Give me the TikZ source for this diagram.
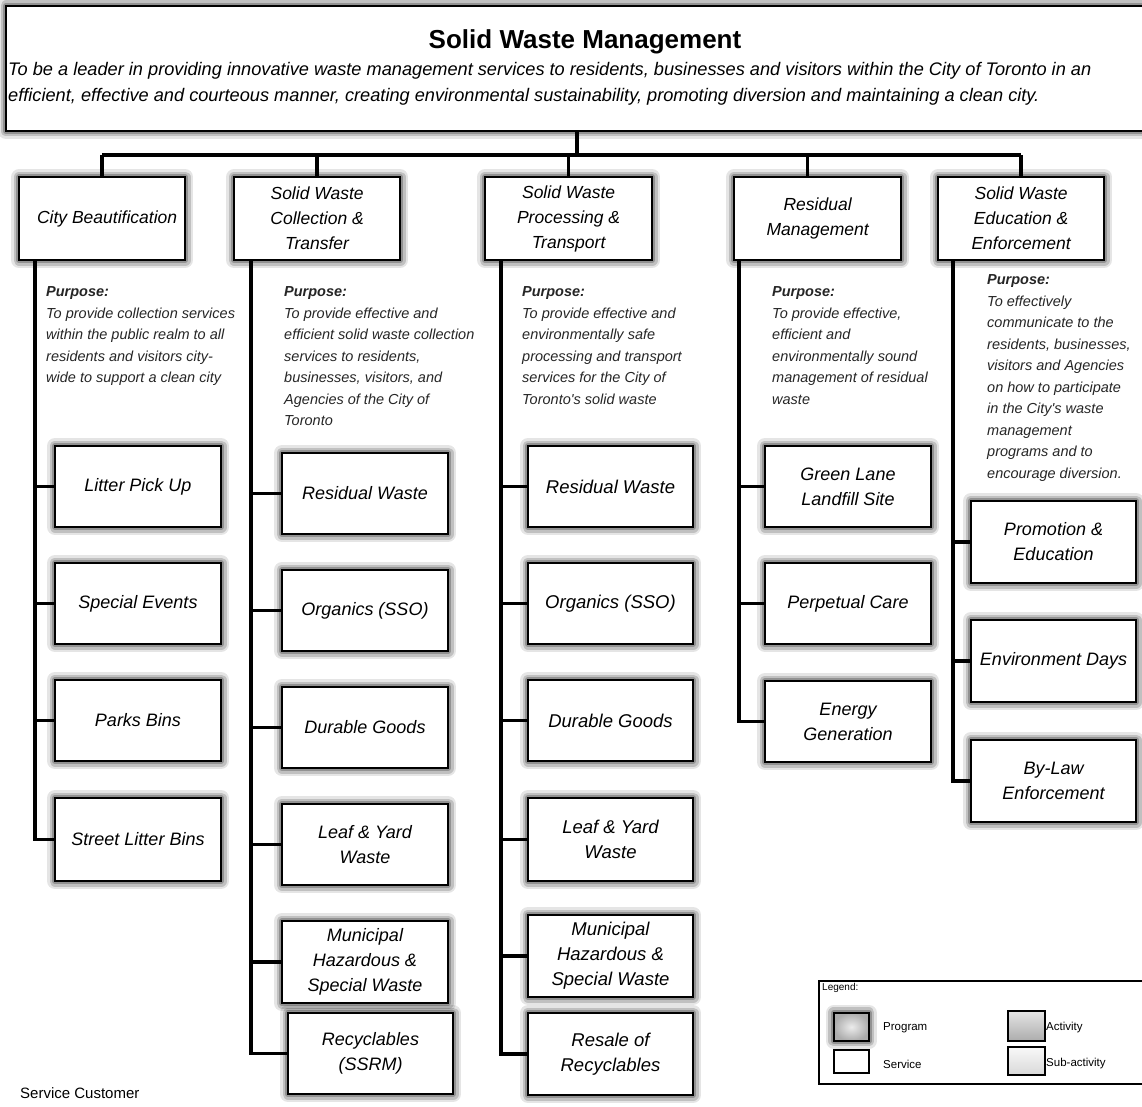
\documentclass[tikz,border=0pt]{standalone}
\usepackage{fontspec}
\setmainfont{Liberation Sans}[Ligatures=TeXOff]
\newcommand\fsz[2]{\fontsize{#1}{#2}\selectfont}
\pgfdeclarelayer{background}
\pgfsetlayers{background,main}
\tikzset{
  glow/.style={
    preaction={draw=black, draw opacity=0.10, line width=16pt, line join=round},
    preaction={draw=black, draw opacity=0.16, line width=11pt, line join=round},
    preaction={draw=black, draw opacity=0.24, line width=6pt, line join=round}},
  hdr/.style={glow, draw=black, line width=2.2pt, fill=white, minimum width=166pt,
    minimum height=83pt, inner sep=2pt, align=center, anchor=north west,
    font=\fsz{17.5}{25}\itshape},
  svc/.style={glow, draw=black, line width=2pt, fill=white, minimum width=166pt,
    minimum height=81pt, inner sep=2pt, align=center, anchor=north west,
    font=\fsz{18}{25}\itshape},
  svcb/.style={svc, font=\fsz{18.5}{25}\itshape},
  conn/.style={draw=black, line width=3.5pt},
  purp/.style={anchor=north west, align=left, inner sep=0pt, text=black!85,
    font=\fsz{14.5}{21.5}\itshape},
  leg/.style={anchor=west, inner sep=0pt, font=\fsz{11.5}{13}}
}
\begin{document}
\begin{tikzpicture}[x=1pt,y=-1pt]
\useasboundingbox (0,0) rectangle (1142,1107);
\begin{pgfonlayer}{background}
\fill[white] (0,0) rectangle (1142,1107);
\end{pgfonlayer}

% top program box
\node[glow, draw=black, line width=2pt, fill=white, anchor=north west,
  minimum width=1150pt, minimum height=125pt] (top) at (5,5) {};
\node[font=\fsz{26}{30}\bfseries] (title) at (585,42) {Solid Waste Management};
\node[anchor=north west, align=left, inner sep=0pt, font=\fsz{18.2}{26}\itshape] (mission) at (8,62)
 {To be a leader in providing innovative waste management services to residents, businesses and visitors within the City of Toronto in an\\
  efficient, effective and courteous manner, creating environmental sustainability, promoting diversion and maintaining a clean city.};

% headers
\node[hdr] (h1) at (18,176) {\hspace*{10pt}City Beautification};
\node[hdr] (h2) at (233,176) {Solid Waste\\Collection \&\\Transfer};
\node[hdr, minimum width=167pt] (h3) at (484,176) {Solid Waste\\Processing \&\\Transport};
\node[hdr, minimum width=167pt] (h4) at (733,176) {Residual\\Management};
\node[hdr] (h5) at (937,176) {Solid Waste\\Education \&\\Enforcement};

% purposes
\node[purp] (p1) at (46,286.5) {\textbf{Purpose:}\\To provide collection services\\within the public realm to all\\residents and visitors city-\\wide to support a clean city};
\node[purp] (p2) at (284,286.5) {\textbf{Purpose:}\\To provide effective and\\efficient solid waste collection\\services to residents,\\businesses, visitors, and\\Agencies of the City of\\Toronto};
\node[purp] (p3) at (522,286.5) {\textbf{Purpose:}\\To provide effective and\\environmentally safe\\processing and transport\\services for the City of\\Toronto's solid waste};
\node[purp] (p4) at (772,286.5) {\textbf{Purpose:}\\To provide effective,\\efficient and\\environmentally sound\\management of residual\\waste};
\node[purp] (p5) at (987,274.5) {\textbf{Purpose:}\\To effectively\\communicate to the\\residents, businesses,\\visitors and Agencies\\on how to participate\\in the City's waste\\management\\programs and to\\encourage diversion.};

% column 1
\node[svc] (c1a) at (54,445) {Litter Pick Up};
\node[svc] (c1b) at (54,562) {Special Events};
\node[svc] (c1c) at (54,679) {Parks Bins};
\node[svc, minimum height=83pt] (c1d) at (54,797) {Street Litter Bins};
% column 2
\node[svc] (c2a) at (281,452) {Residual Waste};
\node[svc] (c2b) at (281,569) {Organics (SSO)};
\node[svc] (c2c) at (281,686) {Durable Goods};
\node[svc] (c2d) at (281,803) {Leaf \& Yard\\Waste};
\node[svc, minimum height=82pt] (c2e) at (281,920) {Municipal\\Hazardous \&\\Special Waste};
\node[svc, minimum width=165pt] (c2f) at (287,1012) {Recyclables\\(SSRM)};
% column 3
\node[svcb, minimum width=165pt] (c3a) at (527,445) {Residual Waste};
\node[svcb, minimum width=165pt] (c3b) at (527,562) {Organics (SSO)};
\node[svcb, minimum width=165pt] (c3c) at (527,679) {Durable Goods};
\node[svcb, minimum width=165pt, minimum height=83pt] (c3d) at (527,797) {Leaf \& Yard\\Waste};
\node[svcb, minimum width=165pt, minimum height=82pt] (c3e) at (527,914) {Municipal\\Hazardous \&\\Special Waste};
\node[svcb, minimum width=165pt, minimum height=82pt] (c3f) at (527,1012) {Resale of\\Recyclables};
% column 4
\node[svc] (c4a) at (764,445) {Green Lane\\Landfill Site};
\node[svc] (c4b) at (764,562) {Perpetual Care};
\node[svc] (c4c) at (764,680) {Energy\\Generation};
% column 5
\node[svc, minimum width=165pt, minimum height=82pt] (c5a) at (970,500) {Promotion \&\\Education};
\node[svc, minimum width=165pt, minimum height=82pt, inner sep=0pt] (c5b) at (970,619) {Environment Days};
\node[svc, minimum width=165pt, minimum height=82pt] (c5c) at (970,739) {By-Law\\Enforcement};

% connectors
\coordinate (bus) at (577,155);
\coordinate (t1) at (35,259);
\coordinate (t2) at (251,259);
\coordinate (t3) at (501,259);
\coordinate (t4) at (739,259);
\coordinate (t5) at (953,259);
\coordinate (h4in) at ([xshift=-10pt]h4.north);
\begin{pgfonlayer}{background}
\draw[conn] (top.south -| bus) -- (bus);
\draw[conn] (h1.north |- bus) -- (h5.north |- bus);
\foreach \h in {h1,h2,h3,h5} \draw[conn] (\h.north) -- (\h.north |- bus);
\draw[conn] (h4in) -- (h4in |- bus);
\foreach \s in {c1a,c1b,c1c,c1d} \draw[conn] (t1) |- (\s.west);
\foreach \s in {c2a,c2b,c2c,c2d,c2e,c2f} \draw[conn] (t2) |- (\s.west);
\foreach \s in {c3a,c3b,c3c,c3d,c3e,c3f} \draw[conn] (t3) |- (\s.west);
\foreach \s in {c4a,c4b,c4c} \draw[conn] (t4) |- (\s.west);
\foreach \s in {c5a,c5b,c5c} \draw[conn] (t5) |- (\s.west);
\end{pgfonlayer}

% legend
\node[draw=black, line width=1.6pt, fill=white, anchor=north west, minimum width=340pt,
  minimum height=103pt] (legend) at (818,980) {};
\node[anchor=north west, inner sep=0pt, font=\fsz{10}{12}] (legtitle) at (822,983) {Legend:};
\node[glow, draw=black, line width=1.8pt, inner color=gray!15, outer color=gray!65,
  anchor=north west, minimum width=35pt, minimum height=28pt] (iprog) at (833,1012) {};
\node[leg] (lprog) at (883,1028) {Program};
\node[draw=black, line width=1.8pt, fill=white, anchor=north west, minimum width=35pt,
  minimum height=23pt] (iserv) at (833,1049) {};
\node[leg] (lserv) at (883,1064) {Service};
\node[draw=black, line width=1.8pt, top color=gray!20, bottom color=gray!65,
  anchor=north west, minimum width=37pt, minimum height=30pt] (iact) at (1007,1010) {};
\node[leg] (lact) at (1046,1028) {Activity};
\node[draw=black, line width=1.8pt, top color=gray!5, bottom color=gray!30,
  anchor=north west, minimum width=37pt, minimum height=28pt] (isub) at (1007,1046) {};
\node[leg] (lsub) at (1046,1064) {Sub-activity};

\node[anchor=west, inner sep=0pt, font=\fsz{15}{18}] (cust) at (20,1093) {Service Customer};
\end{tikzpicture}
\end{document}
